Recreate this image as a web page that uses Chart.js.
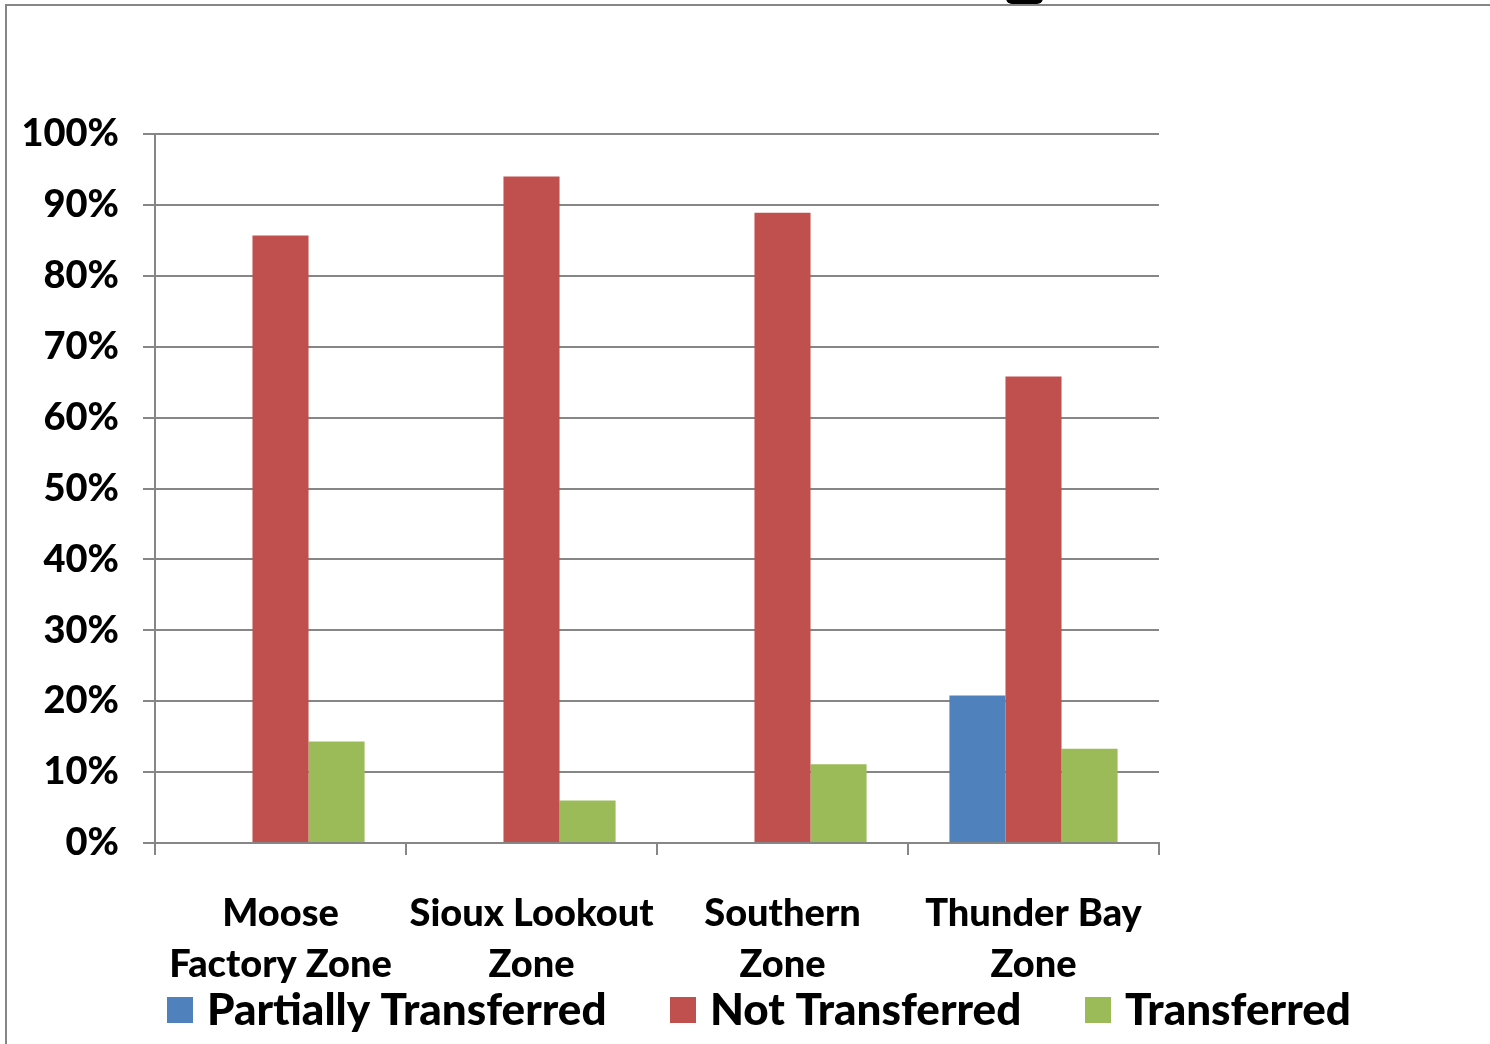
<!DOCTYPE html>
<html>
<head>
<meta charset="utf-8">
<script src="https://cdn.jsdelivr.net/npm/chart.js@4.4.1/dist/chart.umd.min.js"></script>
<style>
  html, body { margin: 0; padding: 0; background: #ffffff; }
  #wrap { width: 1490px; height: 1044px; position: relative; }
</style>
</head>
<body>
<div id="wrap"><canvas id="c" width="1490" height="1044"></canvas></div>
<script>
// Zones and the share of cases in each transfer status (percent)
const zones = [
  ['Moose', 'Factory Zone'],
  ['Sioux Lookout', 'Zone'],
  ['Southern', 'Zone'],
  ['Thunder Bay', 'Zone']
];
const partiallyTransferred = [0, 0, 0, 20.8];
const notTransferred = [85.7, 94.0, 88.9, 65.8];
const transferred = [14.3, 6.0, 11.1, 13.3];
const yTicks = [0, 10, 20, 30, 40, 50, 60, 70, 80, 90, 100];

const seriesNames = ['Partially Transferred', 'Not Transferred', 'Transferred'];
const seriesColors = ['#4F81BD', '#C0504D', '#9BBB59'];
const gridColor = '#868686';
const fontFamily = 'Lato, "Open Sans", sans-serif';

// Outer frame and a legend row along the bottom
const framePlugin = {
  id: 'frame',
  afterDraw(chart) {
    const ctx = chart.ctx;
    ctx.save();
    ctx.strokeStyle = gridColor;
    ctx.lineWidth = 2;
    ctx.beginPath();
    ctx.moveTo(6, 1044);
    ctx.lineTo(6, 5);
    ctx.lineTo(1490, 5);
    ctx.stroke();
    ctx.fillStyle = '#000000';
    ctx.beginPath();
    ctx.roundRect(1006, -10, 37, 14, 6);
    ctx.fill();

    // legend
    const items = chart.data.datasets.map(d => ({ text: d.label, color: d.backgroundColor }));
    const boxX = [167, 670, 1085];
    ctx.font = '900 44px ' + fontFamily;
    ctx.textBaseline = 'middle';
    ctx.textAlign = 'left';
    items.forEach((it, i) => {
      ctx.fillStyle = it.color;
      ctx.fillRect(boxX[i], 997, 26, 26);
      ctx.fillStyle = '#000000';
      ctx.fillText(it.text, boxX[i] + 40, 1011);
    });
    ctx.restore();
  }
};

new Chart(document.getElementById('c'), {
  type: 'bar',
  data: {
    labels: zones,
    datasets: [
      { label: seriesNames[0], data: partiallyTransferred, backgroundColor: seriesColors[0] },
      { label: seriesNames[1], data: notTransferred, backgroundColor: seriesColors[1] },
      { label: seriesNames[2], data: transferred, backgroundColor: seriesColors[2] }
    ]
  },
  options: {
    responsive: false,
    animation: false,
    devicePixelRatio: 1,
    layout: { padding: { left: 0, top: 134, right: 331, bottom: 61 } },
    datasets: { bar: { categoryPercentage: 0.67, barPercentage: 1.0 } },
    plugins: { legend: { display: false }, tooltip: { enabled: false } },
    scales: {
      x: {
        afterFit(s) { s.height = 140; },
        grid: { display: true, drawOnChartArea: false, drawTicks: true, tickLength: 12, color: gridColor, lineWidth: 2, offset: true },
        border: { display: true, color: gridColor, width: 2 },
        ticks: {
          color: '#000000',
          padding: 33,
          maxRotation: 0,
          autoSkip: false,
          font: { family: fontFamily, size: 38, weight: '900', lineHeight: 1.342 }
        }
      },
      y: {
        min: 0,
        max: 100,
        afterFit(s) { s.width = 155; },
        afterBuildTicks(s) { s.ticks = yTicks.map(v => ({ value: v })); },
        grid: { color: gridColor, lineWidth: 2, tickLength: 12 },
        border: { display: true, color: gridColor, width: 2 },
        ticks: {
          color: '#000000',
          padding: 24,
          font: { family: fontFamily, size: 38, weight: '900' },
          callback: v => v + '%'
        }
      }
    }
  },
  plugins: [framePlugin]
});
</script>
</body>
</html>
